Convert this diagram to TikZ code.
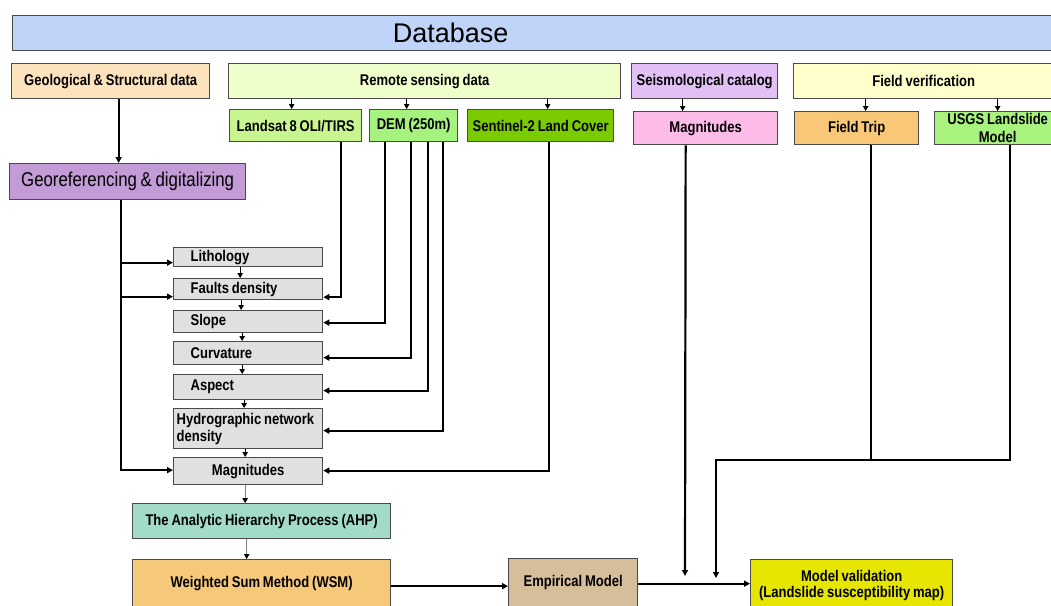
\documentclass[tikz,border=0pt]{standalone}
\usepackage{fontspec}
\setmainfont{Liberation Sans}[FakeStretch=0.84,WordSpace=0.8]
\newfontfamily\dbfont{Liberation Sans}
\usetikzlibrary{arrows.meta}
\definecolor{cDb}{HTML}{BFD4F8}
\definecolor{cGeo}{HTML}{FDE3BD}
\definecolor{cRem}{HTML}{EFFFCC}
\definecolor{cSeis}{HTML}{E2BFF5}
\definecolor{cFver}{HTML}{FFFFCC}
\definecolor{cLand}{HTML}{C8F590}
\definecolor{cDem}{HTML}{A6F27E}
\definecolor{cSent}{HTML}{7ACC00}
\definecolor{cPink}{HTML}{FDBCE8}
\definecolor{cTrip}{HTML}{F8C878}
\definecolor{cUsgs}{HTML}{A8F27E}
\definecolor{cGeoref}{HTML}{C39BD6}
\definecolor{cGray}{HTML}{E0E0E0}
\definecolor{cAhp}{HTML}{A2DCC8}
\definecolor{cWsm}{HTML}{F5C87A}
\definecolor{cEmp}{HTML}{D6BE9A}
\definecolor{cVal}{HTML}{E6E600}
\definecolor{cBorder}{HTML}{4A4A4A}
\tikzset{
  box/.style={draw=cBorder, line width=1.3pt, anchor=north west, inner sep=0pt,
    font=\fontsize{15.5}{17}\selectfont\bfseries, align=center},
  graybox/.style={box, fill=cGray, minimum width=149, text width=115, inner xsep=17, align=flush left},
  conn/.style={line width=2.2pt, -{Triangle[length=6pt,width=6pt]}},
  plain/.style={line width=2.2pt},
  small/.style={line width=0.8pt, -{Triangle[length=5pt,width=5.5pt,color=black]}},
}
\begin{document}
\begin{tikzpicture}[x=1pt,y=-1pt]
\useasboundingbox (0,0) rectangle (1051,605);
\clip (0,0) rectangle (1051,605);
% top row
\node[box, fill=cDb, minimum width=1048, minimum height=35,
  label={[font=\dbfont\fontsize{27}{30}\selectfont, xshift=-86pt]center:Database}] (db) at (12,15) {};
\node[box, fill=cGeo, minimum width=198, minimum height=35] (geo) at (11,63) {Geological \& Structural data};
\node[box, fill=cRem, minimum width=392, minimum height=35] (remote) at (228,63) {Remote sensing data};
\node[box, fill=cSeis, minimum width=146, minimum height=35] (seis) at (631,63) {\raisebox{2pt}{Seismological catalog}};
\node[box, fill=cFver, minimum width=260, minimum height=35] (fver) at (793,63) {Field verification};
% second row
\node[box, fill=cLand, minimum width=132, minimum height=32] (landsat) at (229,109) {Landsat 8 OLI/TIRS};
\node[box, fill=cDem, minimum width=88, minimum height=32] (dem) at (369,109) {DEM (250m)};
\node[box, fill=cSent, minimum width=146, minimum height=32] (sent) at (467,109) {Sentinel-2 Land Cover};
\node[box, fill=cPink, minimum width=144, minimum height=33] (pmag) at (633,111) {\raisebox{-3pt}{Magnitudes}};
\node[box, fill=cTrip, minimum width=124, minimum height=33] (trip) at (794,111) {Field Trip};
\node[box, fill=cUsgs, minimum width=126, minimum height=33, font=\fontsize{15.5}{18}\selectfont\bfseries] (usgs) at (934,111) {USGS Landslide\\Model};
% georeferencing
\node[box, fill=cGeoref, minimum width=236, minimum height=36, font=\fontsize{20}{22}\selectfont] (georef) at (9,163) {Georeferencing \& digitalizing};
% factors
\node[graybox, minimum height=19] (lith) at (173,247) {Lithology};
\node[graybox, minimum height=21] (fault) at (173,278) {Faults density};
\node[graybox, minimum height=22] (slope) at (173,310) {Slope};
\node[graybox, minimum height=23] (curv) at (173,341) {Curvature};
\node[graybox, minimum height=25] (aspect) at (173,374) {Aspect};
\node[graybox, minimum height=40, text width=143, inner xsep=3] (hydro) at (173,408) {\mbox{Hydrographic network}\\density};
\node[graybox, minimum height=27, align=center] (mag) at (173,457) {Magnitudes};
% methods
\node[box, fill=cAhp, minimum width=258, minimum height=35] (ahp) at (132,503) {The Analytic Hierarchy Process (AHP)};
\node[box, fill=cWsm, minimum width=258, minimum height=53] (wsm) at (132,559) {\raisebox{8.5pt}{Weighted Sum Method (WSM)}};
\node[box, fill=cEmp, minimum width=129, minimum height=54] (emp) at (508,558) {\raisebox{9pt}{Empirical Model}};
\node[box, fill=cVal, minimum width=202, minimum height=53] (val) at (750,559) {\raisebox{3.5pt}{\begin{tabular}{@{}c@{}}Model validation\\[-1pt](Landslide susceptibility map)\end{tabular}}};
% coordinates
\coordinate (pend) at (685,576);
\coordinate (jn) at (716,460);
\coordinate (jend) at (716,578);
% small top arrows
\draw[small] ([xshift=-4]landsat.north |- remote.south) -- ([xshift=-4]landsat.north);
\draw[small] ([xshift=-7]dem.north |- remote.south) -- ([xshift=-7]dem.north);
\draw[small] ([xshift=7]sent.north |- remote.south) -- ([xshift=7]sent.north);
\draw[small] ([xshift=-23]pmag.north |- seis.south) -- ([xshift=-23]pmag.north);
\draw[small] ([xshift=9]trip.north |- fver.south) -- ([xshift=9]trip.north);
\draw[small] ([xshift=0]usgs.north |- fver.south) -- ([xshift=0]usgs.north);
% geological to georeferencing
\draw[conn] ([xshift=8]geo.south) -- ([xshift=8]geo.south |- georef.north);
% georeferencing branches
\draw[conn] ([xshift=-7]georef.south) |- ([yshift=1]mag.west);
\draw[conn] ([xshift=-7]georef.south |- lith.west) ++(0,5.5) -- ([yshift=-5.5]lith.west);
\draw[conn] ([xshift=-7]georef.south |- fault.west) ++(0,7.5) -- ([yshift=-7.5]fault.west);
% remote sensing lines
\draw[conn] ([xshift=45]landsat.south) |- ([yshift=-8]fault.east);
\draw[conn] ([xshift=-29]dem.south) |- ([yshift=-1]slope.east);
\draw[conn] ([xshift=-3]dem.south) |- ([yshift=-4.5]curv.east);
\draw[conn] ([xshift=14]dem.south) |- ([yshift=-3.5]aspect.east);
\draw[conn] ([xshift=29]dem.south) |- ([yshift=-2]hydro.east);
\draw[conn] ([xshift=8]sent.south) |- ([yshift=0.5]mag.east);
% factor chain
\draw[small] ([xshift=-8]lith.south) -- ([xshift=-8]lith.south |- fault.north);
\draw[small] ([xshift=-7]fault.south) -- ([xshift=-7]fault.south |- slope.north);
\draw[small] ([xshift=-6]slope.south) -- ([xshift=-6]slope.south |- curv.north);
\draw[small] ([xshift=-6]curv.south) -- ([xshift=-6]curv.south |- aspect.north);
\draw[small] ([xshift=-4]aspect.south) -- ([xshift=-4]aspect.south |- hydro.north);
\draw[small] ([xshift=-3]hydro.south) -- ([xshift=-3]hydro.south |- mag.north);
\draw[small, draw=gray] ([xshift=-3]mag.south) -- ([xshift=-3]mag.south |- ahp.north);
\draw[small, draw=gray] ([xshift=-15]ahp.south) -- ([xshift=-15]ahp.south |- wsm.north);
% bottom chain
\draw[conn] (wsm.east) -- (wsm.east -| emp.west);
\draw[conn] ([yshift=2]emp.east) -- ([yshift=2]emp.east -| val.west);
% seismological and field lines
\draw[conn] ([xshift=-20]pmag.south) -- (pend);
\draw[plain] ([xshift=14]trip.south) -- ([xshift=14]trip.south |- jn);
\draw[conn] ([xshift=12]usgs.south) |- (jn) -- (jend);
\end{tikzpicture}
\end{document}
